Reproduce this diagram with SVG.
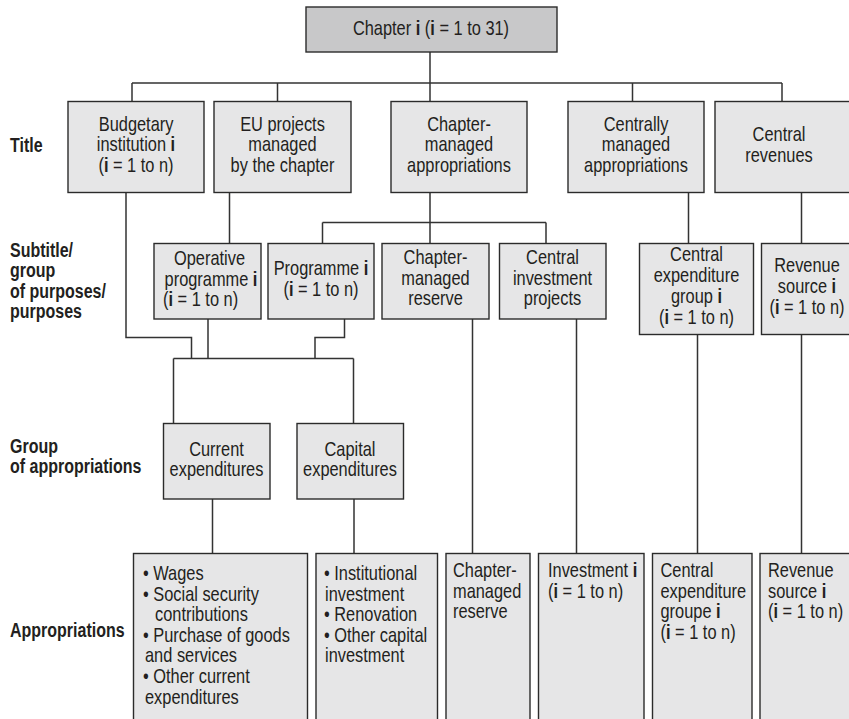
<svg xmlns="http://www.w3.org/2000/svg" width="849" height="719" viewBox="0 0 849 719">
<style>
.bx{fill:#e6e6e7;stroke:#2b2b2b;stroke-width:1.4}
.top{fill:#c8c8c9;stroke:#2b2b2b;stroke-width:1.4}
.ln{fill:none;stroke:#333;stroke-width:1.5}
text{font-family:"Liberation Sans",Arial,sans-serif;font-size:20px;fill:#231f20;transform-box:fill-box;transform-origin:left center;transform:scaleX(0.82)}
text.c{text-anchor:middle;transform-origin:center center}
.lab{font-weight:bold;font-size:19.5px}
.b{font-weight:bold}
</style>
<rect width="849" height="719" fill="#fff"/>
<g id="connectors">
<path class="ln" d="M430,52V101.5M132,83H782M132,83V101.5M277.5,83V101.5M632.5,83V101.5M782,83V101.5"/>
<path class="ln" d="M126,192.5V337.5H191.5V358.5M229.5,192.5V243.5M430,192.5V243.5M322.5,222.5H546M322.5,222.5V243.5M546,222.5V243.5M688.5,192.5V243.5M801.5,192.5V243.5"/>
<path class="ln" d="M208,319V358.5M344.5,319V337.5H315V358.5M173.5,358.5H353.5M173.5,358.5V423.5M353.5,358.5V423.5M212.5,499V553.5M354,499V553.5"/>
<path class="ln" d="M472.5,319V553.5M576.5,319V553.5M697.5,334.5V553.5M801.5,334.5V553.5"/>
</g>
<g id="labels">
<text class="lab" x="10" y="152">Title</text>
<text class="lab" x="10" y="257">Subtitle/</text>
<text class="lab" x="10" y="277.5">group</text>
<text class="lab" x="10" y="298">of purposes/</text>
<text class="lab" x="10" y="318.5">purposes</text>
<text class="lab" x="10" y="453">Group</text>
<text class="lab" x="10" y="473.5">of appropriations</text>
<text class="lab" x="10" y="637">Appropriations</text>
</g>
<g id="chapter">
<rect class="top" x="306" y="7" width="251" height="45"/>
<text class="c" x="431" y="35">Chapter <tspan class="b">i</tspan> (<tspan class="b">i</tspan> = 1 to 31)</text>
</g>
<g id="budgetary-institution">
<rect class="bx" x="68" y="101.5" width="136" height="91"/>
<text class="c" x="136" y="131">Budgetary</text>
<text class="c" x="136" y="151.5">institution <tspan class="b">i</tspan></text>
<text class="c" x="136" y="172">(<tspan class="b">i</tspan> = 1 to n)</text>
</g>
<g id="eu-projects">
<rect class="bx" x="214" y="101.5" width="137" height="91"/>
<text class="c" x="282.5" y="131">EU projects</text>
<text class="c" x="282.5" y="151.5">managed</text>
<text class="c" x="282.5" y="172">by the chapter</text>
</g>
<g id="chapter-managed-appropriations">
<rect class="bx" x="391" y="101.5" width="136" height="91"/>
<text class="c" x="459" y="131">Chapter-</text>
<text class="c" x="459" y="151.5">managed</text>
<text class="c" x="459" y="172">appropriations</text>
</g>
<g id="centrally-managed-appropriations">
<rect class="bx" x="568" y="101.5" width="136" height="91"/>
<text class="c" x="636" y="131">Centrally</text>
<text class="c" x="636" y="151.5">managed</text>
<text class="c" x="636" y="172">appropriations</text>
</g>
<g id="central-revenues">
<rect class="bx" x="715" y="101.5" width="145" height="91"/>
<text class="c" x="779" y="141.5">Central</text>
<text class="c" x="779" y="162">revenues</text>
</g>
<g id="operative-programme">
<rect class="bx" x="154" y="243.5" width="107" height="75.5"/>
<text class="c" x="209.5" y="265">Operative</text>
<text class="c" x="211" y="286">programme <tspan class="b">i</tspan></text>
<text x="163" y="306.5">(<tspan class="b">i</tspan> = 1 to n)</text>
</g>
<g id="programme">
<rect class="bx" x="268" y="243.5" width="106" height="75.5"/>
<text class="c" x="321" y="275">Programme <tspan class="b">i</tspan></text>
<text class="c" x="321" y="296">(<tspan class="b">i</tspan> = 1 to n)</text>
</g>
<g id="chapter-managed-reserve">
<rect class="bx" x="382" y="243.5" width="107" height="75.5"/>
<text class="c" x="435.5" y="264">Chapter-</text>
<text class="c" x="435.5" y="285">managed</text>
<text class="c" x="435.5" y="305.5">reserve</text>
</g>
<g id="central-investment-projects">
<rect class="bx" x="499.5" y="243.5" width="106.5" height="75.5"/>
<text class="c" x="552.5" y="264">Central</text>
<text class="c" x="552.5" y="285">investment</text>
<text class="c" x="552.5" y="305.5">projects</text>
</g>
<g id="central-expenditure-group">
<rect class="bx" x="639.5" y="243.5" width="114" height="91"/>
<text class="c" x="696.5" y="261">Central</text>
<text class="c" x="696.5" y="282">expenditure</text>
<text class="c" x="696.5" y="303">group <tspan class="b">i</tspan></text>
<text class="c" x="696.5" y="324">(<tspan class="b">i</tspan> = 1 to n)</text>
</g>
<g id="revenue-source">
<rect class="bx" x="761.5" y="243.5" width="100" height="91"/>
<text class="c" x="807" y="272">Revenue</text>
<text class="c" x="807" y="293">source <tspan class="b">i</tspan></text>
<text class="c" x="807" y="314">(<tspan class="b">i</tspan> = 1 to n)</text>
</g>
<g id="current-expenditures">
<rect class="bx" x="163.5" y="423.5" width="106.5" height="75.5"/>
<text class="c" x="216.5" y="456.5">Current</text>
<text class="c" x="216.5" y="476">expenditures</text>
</g>
<g id="capital-expenditures">
<rect class="bx" x="297" y="423.5" width="106.5" height="75.5"/>
<text class="c" x="350" y="456.5">Capital</text>
<text class="c" x="350" y="476">expenditures</text>
</g>
<g id="current-appropriations">
<rect class="bx" x="133.5" y="553.5" width="174" height="180"/>
<text x="143" y="580">• Wages</text>
<text x="143" y="600.6">• Social security</text>
<text x="155" y="621.2">contributions</text>
<text x="143" y="641.8">• Purchase of goods</text>
<text x="145" y="662.4">and services</text>
<text x="143" y="683">• Other current</text>
<text x="145" y="703.6">expenditures</text>
</g>
<g id="capital-appropriations">
<rect class="bx" x="316" y="553.5" width="121.5" height="180"/>
<text x="324" y="580">• Institutional</text>
<text x="325" y="600.6">investment</text>
<text x="324" y="621.2">• Renovation</text>
<text x="324" y="641.8">• Other capital</text>
<text x="325" y="662.4">investment</text>
</g>
<g id="reserve-appropriation">
<rect class="bx" x="446" y="553.5" width="84" height="180"/>
<text x="453" y="577.5">Chapter-</text>
<text x="453" y="598">managed</text>
<text x="453" y="618.5">reserve</text>
</g>
<g id="investment-appropriation">
<rect class="bx" x="538.5" y="553.5" width="105.5" height="180"/>
<text x="548" y="577.5">Investment <tspan class="b">i</tspan></text>
<text x="548" y="598">(<tspan class="b">i</tspan> = 1 to n)</text>
</g>
<g id="central-expenditure-appropriation">
<rect class="bx" x="652.5" y="553.5" width="99.5" height="180"/>
<text x="660.5" y="577.5">Central</text>
<text x="660.5" y="598">expenditure</text>
<text x="660.5" y="618.5">groupe <tspan class="b">i</tspan></text>
<text x="660.5" y="639">(<tspan class="b">i</tspan> = 1 to n)</text>
</g>
<g id="revenue-appropriation">
<rect class="bx" x="760" y="553.5" width="100" height="180"/>
<text x="768" y="577.5">Revenue</text>
<text x="768" y="598">source <tspan class="b">i</tspan></text>
<text x="768" y="618.5">(<tspan class="b">i</tspan> = 1 to n)</text>
</g>
</svg>
